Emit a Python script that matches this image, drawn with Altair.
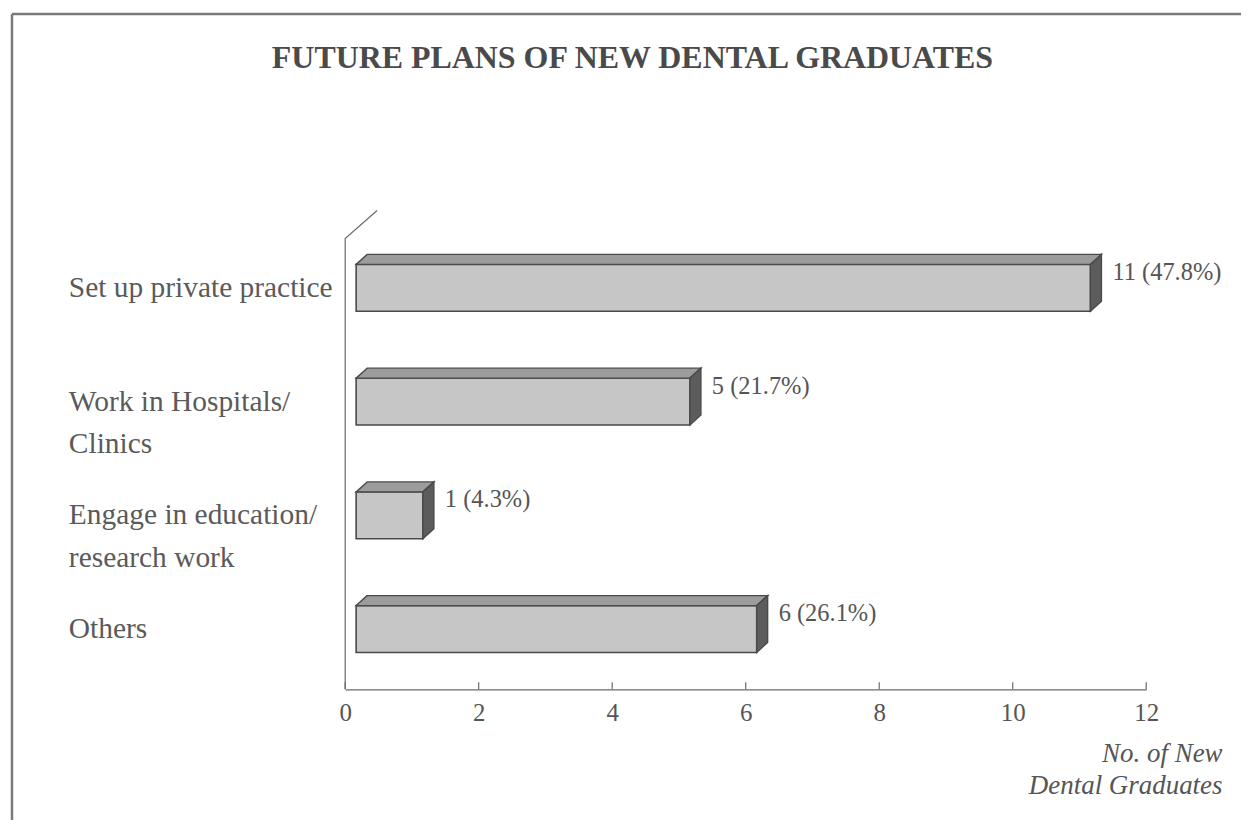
import altair as alt
import pandas as pd

# ---------------- data ----------------
categories = ["Set up private practice", "Work  in Hospitals/\nClinics",
              "Engage in education/\nresearch work", "Others"]
values = [11, 5, 1, 6]
percents = [47.8, 21.7, 4.3, 26.1]
x_ticks = [0, 2, 4, 6, 8, 10, 12]
title_text = "FUTURE PLANS OF NEW DENTAL GRADUATES"
x_title = ["No. of New", "Dental Graduates"]

# ---------------- geometry / style ----------------
W, H = 803, 480
X_DOMAIN = [0, 12]
Y_DOMAIN = [-0.68, 3.53]          # category slots, top -> bottom
PXX = W / (X_DOMAIN[1] - X_DOMAIN[0])
PXY = H / (Y_DOMAIN[1] - Y_DOMAIN[0])
SHIFT = 11 / PXX                  # front face offset from axis origin
DX = 11 / PXX                     # depth to the right
DY = 10 / PXY                     # depth upward
HALF = 23.5 / PXY                 # half bar thickness

TXT = "#555555"
EDGE = "#4a4a4a"
FONT = "Liberation Serif"

XS = alt.Scale(domain=X_DOMAIN, nice=False, zero=False)
YS = alt.Scale(domain=Y_DOMAIN, nice=False, zero=False, reverse=True)
XAXIS = alt.Axis(values=x_ticks, format="d", grid=False, ticks=False,
                 domainColor="#6a6a6a", domainWidth=1.2, labelFlush=False,
                 labelFont=FONT, labelFontSize=25, labelColor=TXT, labelPadding=11,
                 title=x_title, titleFont=FONT, titleFontSize=27, titleFontStyle="italic",
                 titleFontWeight="normal", titleColor=TXT, titleAlign="right",
                 titleAnchor="end", titleX=879, titleY=51, titleBaseline="top",
                 titleLineHeight=32)


def X(field, **kw):
    return alt.X(field, type="quantitative", scale=XS, axis=XAXIS, **kw)


def Y(field, **kw):
    return alt.Y(field, type="quantitative", scale=YS, axis=None, **kw)


n = len(categories)
front = pd.DataFrame({
    "cat": categories,
    "x0": [SHIFT] * n,
    "x1": [v + SHIFT for v in values],
    "yt": [i - HALF for i in range(n)],
    "yb": [i + HALF for i in range(n)],
})

top_rows, side_rows = [], []
for i, v in enumerate(values):
    top_rows.append({"bar": i, "y": i - HALF, "xl": SHIFT, "xr": v + SHIFT})
    top_rows.append({"bar": i, "y": i - HALF - DY, "xl": SHIFT + DX, "xr": v + SHIFT + DX})
    side_rows.append({"bar": i, "x": v + SHIFT, "yb": i + HALF, "yt": i - HALF})
    side_rows.append({"bar": i, "x": v + SHIFT + DX, "yb": i + HALF - DY, "yt": i - HALF - DY})
top = pd.DataFrame(top_rows)
side = pd.DataFrame(side_rows)

labels = pd.DataFrame({
    "cat": categories,
    "pos": list(range(n)),
    "xv": [v + SHIFT + DX for v in values],
    "lab": [f"{v} ({p}%)" for v, p in zip(values, percents)],
})

wall = pd.DataFrame({
    "x": [0, 0, 32 / PXX],
    "y": [Y_DOMAIN[1], Y_DOMAIN[0] + 28 / PXY, Y_DOMAIN[0]],
    "o": [0, 1, 2],
})
ticks = pd.DataFrame({"t": x_ticks})

wall_layer = alt.Chart(wall).mark_line(color="#6a6a6a", strokeWidth=1.2).encode(
    x=X("x"), y=Y("y"), order="o:Q")

tick_layer = alt.Chart(ticks).mark_rule(color="#6a6a6a", strokeWidth=1.2).encode(
    x=X("t"), y=alt.value(H - 7), y2=alt.value(H))

front_layer = alt.Chart(front).mark_rect(
    fill="#c6c6c6", stroke=EDGE, strokeWidth=1.6).encode(
    x=X("x0"), x2="x1", y=Y("yt"), y2="yb")

top_layer = alt.Chart(top).mark_area(
    orient="horizontal", fill="#9c9c9c", stroke=EDGE, strokeWidth=1.4,
    fillOpacity=1).encode(
    y=Y("y"), x=X("xl"), x2="xr", detail="bar:N")

side_layer = alt.Chart(side).mark_area(
    orient="vertical", fill="#5c5c5c", stroke=EDGE, strokeWidth=1.4,
    fillOpacity=1).encode(
    x=X("x"), y=Y("yb"), y2="yt", detail="bar:N")

value_layer = alt.Chart(labels).mark_text(
    align="left", baseline="middle", font=FONT, fontSize=24.5, color=TXT,
    dx=11, dy=-15).encode(
    x=X("xv"), y=Y("pos"), text="lab:N")

cat_layer = alt.Chart(labels).mark_text(
    align="left", baseline="middle", font=FONT, fontSize=29.5, color="#5a5a5a",
    lineBreak="\n", lineHeight=43).encode(
    x=alt.value(69 - 346), y=Y("pos"), text="cat:N")

title_layer = alt.Chart(pd.DataFrame({"t": [title_text]})).mark_text(
    align="center", baseline="middle", font=FONT, fontSize=32, fontWeight="bold",
    color="#4a4a4a").encode(
    x=alt.value(634 - 346), y=alt.value(57 - 210), text="t:N")

border_top = alt.Chart(pd.DataFrame({"a": [0]})).mark_rule(
    color="#7a7a7a", strokeWidth=2.5).encode(
    x=alt.value(12 - 346), x2=alt.value(1260 - 346), y=alt.value(13 - 210))
border_left = alt.Chart(pd.DataFrame({"a": [0]})).mark_rule(
    color="#7a7a7a", strokeWidth=2.5).encode(
    x=alt.value(12 - 346), y=alt.value(13 - 210), y2=alt.value(830 - 210))

chart = alt.layer(
    border_top, border_left, title_layer, wall_layer, tick_layer,
    front_layer, top_layer, side_layer, value_layer, cat_layer
).properties(
    width=W, height=H,
    autosize=alt.AutoSizeParams(type="none"),
    padding={"left": 338, "top": 202, "right": 95, "bottom": 130},
    background="white",
).configure_view(stroke=None)

chart.save("out.html", embed_options={"renderer": "svg", "actions": False})
